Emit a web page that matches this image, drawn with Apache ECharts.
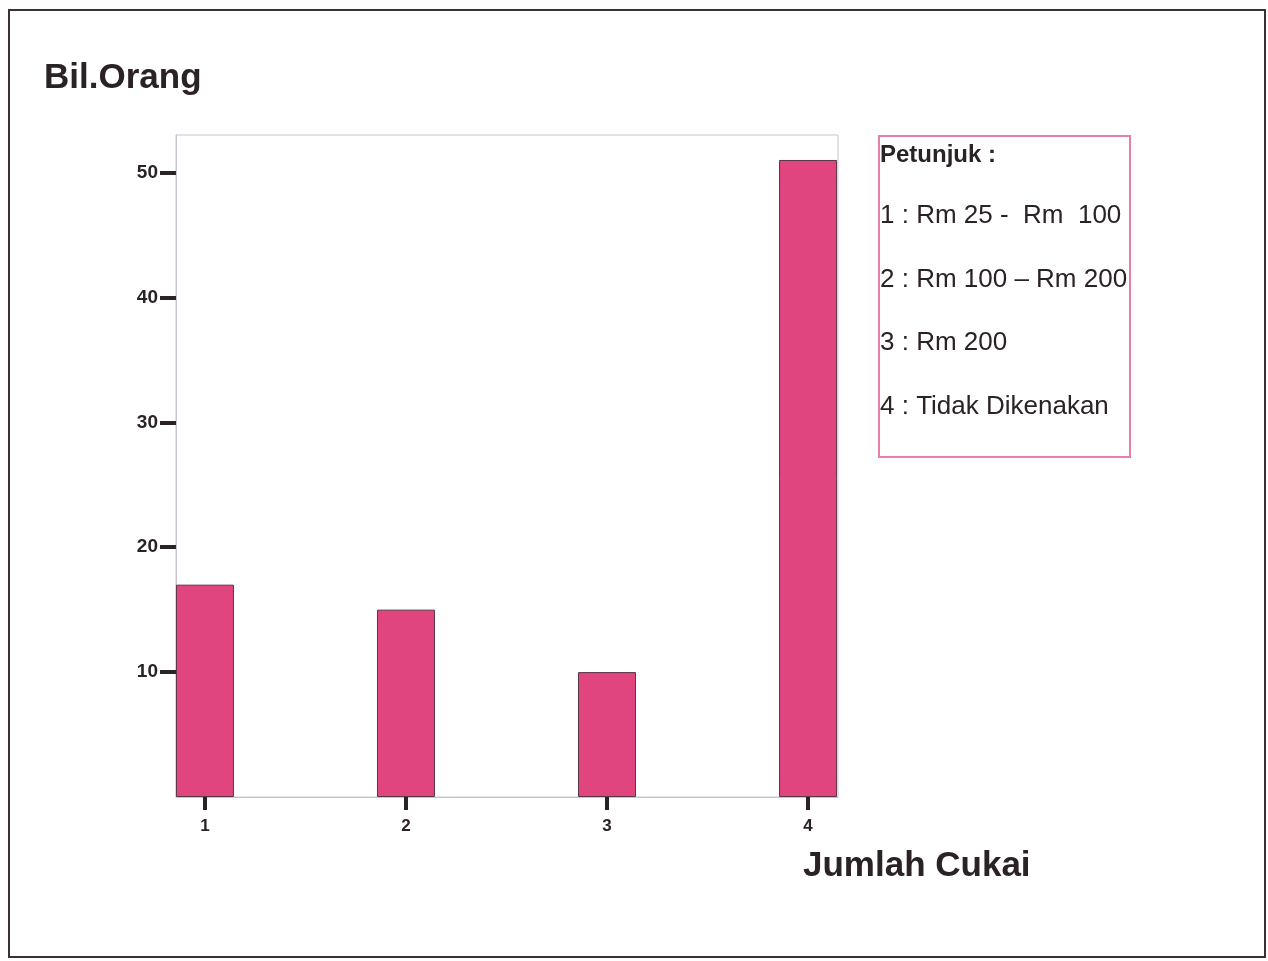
<!DOCTYPE html>
<html>
<head>
<meta charset="utf-8">
<script src="https://cdn.jsdelivr.net/npm/echarts@6/dist/echarts.min.js"></script>
<style>
html,body{margin:0;padding:0;background:#fff;}
#chart{width:1268px;height:961px;}
</style>
</head>
<body>
<div id="chart"></div>
<script>
// Data
const categories = [1, 2, 3, 4];
const counts = [17, 15, 10, 51];
const yTicks = [10, 20, 30, 40, 50];
const yAxisTitle = 'Bil.Orang';
const xAxisTitle = 'Jumlah Cukai';
const legendTitle = 'Petunjuk :';
const legendItems = ['1 : Rm 25 -  Rm  100', '2 : Rm 100 \u2013 Rm 200', '3 : Rm 200', '4 : Tidak Dikenakan'];

const chart = echarts.init(document.getElementById('chart'));
const FONT = '"Liberation Sans", Arial, sans-serif';
const INK = '#2b2226';

const barData = categories.map((c, i) => [c, counts[i]]);

const legendGraphics = [
  {type: 'rect', shape: {x: 879, y: 136, width: 251, height: 321}, style: {fill: 'none', stroke: '#e67fae', lineWidth: 2}},
  {type: 'text', x: 880, y: 155, style: {text: legendTitle, font: 'bold 24px ' + FONT, fill: INK, textVerticalAlign: 'middle'}}
];
legendItems.forEach((t, i) => {
  legendGraphics.push({type: 'text', x: 880, y: 216 + i * 63.5, style: {text: t, font: '26px ' + FONT, fill: INK, textVerticalAlign: 'middle'}});
});

chart.setOption({
  animation: false,
  backgroundColor: '#ffffff',
  grid: {left: 176, top: 135, width: 662, height: 662, show: true, borderColor: '#c9c2d2', borderWidth: 1, containLabel: false},
  xAxis: {
    type: 'value', min: 0.856, max: 4.149,
    splitLine: {show: false},
    axisLine: {show: true, onZero: false, lineStyle: {color: '#c9c2d2', width: 1}},
    axisTick: {show: true, customValues: categories, length: 13, lineStyle: {color: INK, width: 4}},
    axisLabel: {customValues: categories, margin: 21, color: INK, fontFamily: FONT, fontWeight: 'bold', fontSize: 17}
  },
  yAxis: {
    type: 'value', min: 0, max: 53,
    splitLine: {show: false},
    axisLine: {show: true, lineStyle: {color: '#c9c2d2', width: 1}},
    axisTick: {show: true, customValues: yTicks, length: 16, lineStyle: {color: INK, width: 4}},
    axisLabel: {customValues: yTicks, margin: 18, color: INK, fontFamily: FONT, fontWeight: 'bold', fontSize: 19}
  },
  series: [{
    type: 'bar',
    data: barData,
    barWidth: 58,
    itemStyle: {color: '#e1457f', borderColor: '#5a3545', borderWidth: 1}
  }],
  graphic: [
    {type: 'rect', shape: {x: 9, y: 10, width: 1256, height: 947}, style: {fill: 'none', stroke: '#3a3035', lineWidth: 2}, z: 10},
    {type: 'text', x: 44, y: 78, style: {text: yAxisTitle, font: 'bold 35px ' + FONT, fill: INK, textVerticalAlign: 'middle'}},
    {type: 'text', x: 803, y: 866, style: {text: xAxisTitle, font: 'bold 35px ' + FONT, fill: INK, textVerticalAlign: 'middle'}}
  ].concat(legendGraphics)
});
</script>
</body>
</html>
